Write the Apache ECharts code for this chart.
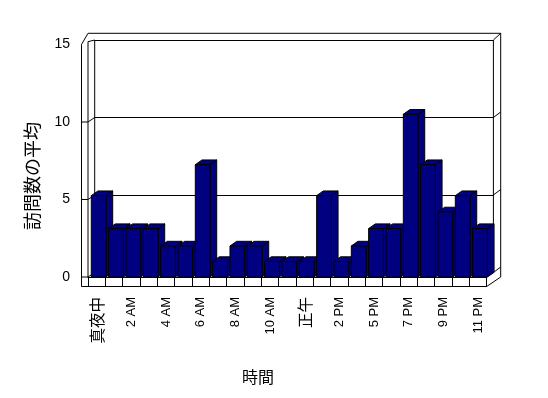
<!DOCTYPE html>
<html><head><meta charset="utf-8">
<script src="https://cdn.jsdelivr.net/npm/echarts@6/dist/echarts.min.js"></script>
<style>html,body{margin:0;padding:0;background:#fff}#c{width:548px;height:398px}</style>
</head><body><div id="c"></div>
<script>
const categories = ['真夜中','1 AM','2 AM','3 AM','4 AM','5 AM','6 AM','7 AM','8 AM','9 AM','10 AM','11 AM','正午','1 PM','2 PM','3 PM','5 PM','6 PM','7 PM','8 PM','9 PM','10 PM','11 PM'];
const visits = [5.25,3.125,3.125,3.125,2,2,7.25,1,2,2,1,1,1,5.25,1,2,3.125,3.125,10.5,7.25,4.2,5.25,3.125];
const yTicks = [0,5,10,15];
const xTitle = '時間';
const yTitle = '訪問数の平均';

const FONT = '"Liberation Sans", "Noto Sans CJK JP", sans-serif';
const G = {left:88, right:61.3, top:44.5, bottom:121};
const D1 = [6.7, -4.5];
const chart = echarts.init(document.getElementById('c'), null, {renderer:'canvas'});

function renderBar(params, api){
  const idx = api.value(0), v = api.value(1);
  const base = api.coord([idx, 0]);
  const top = api.coord([idx, v]);
  const bw = api.size([1,0])[0];
  const L = base[0] - bw*0.31, R = L + bw*0.85;
  const T = top[1], B = base[1];
  const dx = bw*0.385, dy = -bw*0.27;
  const st = {fill:'#000080', stroke:'#000', lineWidth:1};
  return {type:'group', children:[
    {type:'polygon', shape:{points:[[R,T],[R+dx,T+dy],[R+dx,B+dy],[R,B]]}, style:st},
    {type:'polygon', shape:{points:[[L,T],[R,T],[R+dx,T+dy],[L+dx,T+dy]]}, style:st},
    {type:'rect', shape:{x:L, y:T, width:R-L, height:B-T}, style:st}
  ]};
}

chart.setOption({
  animation:false,
  backgroundColor:'#fff',
  grid:[
    {left:G.left, right:G.right, top:G.top, bottom:G.bottom},
    {left:G.left+D1[0], right:G.right-D1[0], top:G.top+D1[1], bottom:G.bottom-D1[1]}
  ],
  xAxis:[
    {type:'category', data:categories, gridIndex:0, boundaryGap:true,
     axisLine:{show:true, lineStyle:{color:'#000', width:1}},
     axisTick:{show:true, interval:0, length:9.5, lineStyle:{color:'#000'}},
     axisLabel:{interval:1, rotate:90, margin:20, color:'#000', fontSize:13, fontFamily:FONT,
       formatter:(s)=>/[^\x00-\x7f]/.test(s) ? '{cjk|'+s+'}' : s,
       rich:{cjk:{fontSize:15.5, fontFamily:'"Noto Sans CJK JP", sans-serif', color:'#000'}}},
     splitLine:{show:false}},
    {type:'category', data:categories, gridIndex:1, show:false}
  ],
  yAxis:[
    {type:'value', gridIndex:0, min:0, max:15, interval:5, offset:6.5,
     axisLine:{show:false}, axisTick:{show:false}, splitLine:{show:false},
     axisLabel:{color:'#000', fontSize:14, margin:11.5, fontFamily:FONT}},
    {type:'value', gridIndex:1, min:0, max:15, interval:5,
     axisLine:{show:false}, axisTick:{show:false}, axisLabel:{show:false},
     splitLine:{show:true, lineStyle:{color:'#000', width:1}}}
  ],
  series:[
    {type:'custom', xAxisIndex:0, yAxisIndex:0, renderItem:renderBar, clip:false,
     data: visits.map((v,i)=>[i,v]), z:5}
  ]
});

// frame
const x0 = G.left;
const W = 548, H = 398;
const x1 = W - G.right, yT = G.top, yB = H - G.bottom;
const ln = (a,b,c,d)=>({type:'line', shape:{x1:a,y1:b,x2:c,y2:d}, style:{stroke:'#000', lineWidth:1}, z:1});
const bx0 = x0 + D1[0], bx1 = x1 + D1[0], byT = yT + D1[1], byB = yB + D1[1];
const ox = x1 + 14, oyT = yT - 11.2;
const els = [
  ln(x0-6.5, yT, x0-6.5, yB+9.5),
  ln(x0-6.5, yB+9.5, x1, yB+9.5),
  ln(x1, yB+9.5, ox, yB),
  ln(ox, yB, ox, oyT),
  ln(ox, oyT, x0, oyT),
  ln(x0, oyT, x0-6.5, yT),
  ln(x0, yT-2.8, x0, yB),
  ln(x0, yT-2.8, bx0, byT),
  ln(bx0, byT, bx0, byB),
  ln(bx1, byT, bx1, byB),
  ln(x1, yB, bx1, byB),
  ln(bx1, byT, ox, oyT)
];
yTicks.forEach(v=>{
  const y = chart.convertToPixel({yAxisIndex:0}, v);
  const yb = chart.convertToPixel({yAxisIndex:1}, v);
  if (v < 15) {
    els.push(ln(x0-6.5, y, x0, y));
    els.push(ln(x0, y, bx0, yb));
    els.push(ln(bx1, yb, ox, yb-5.5));
  }
});
els.push({type:'text', x:258, y:377, style:{text:xTitle, font:'16px "Noto Sans CJK JP", sans-serif', fill:'#000', align:'center', verticalAlign:'middle'}, z:3});
els.push({type:'text', x:32, y:176, rotation:Math.PI/2, style:{text:yTitle, font:'18px "Noto Sans CJK JP", sans-serif', fill:'#000', align:'center', verticalAlign:'middle'}, z:3});
chart.setOption({graphic:{elements:els}});
</script></body></html>
